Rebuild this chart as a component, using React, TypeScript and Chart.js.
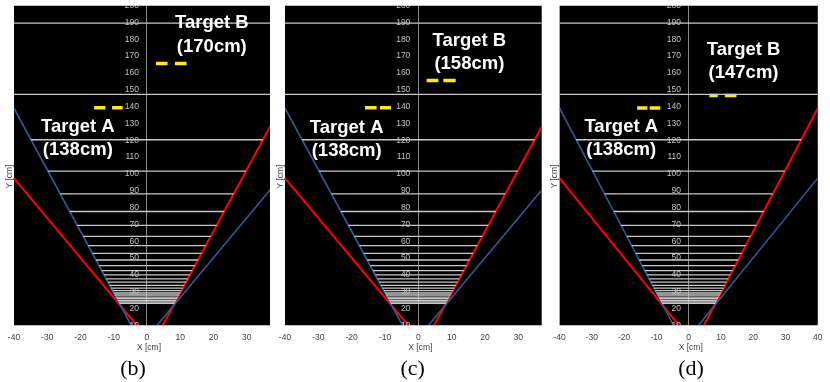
import React, { useEffect, useRef } from "react";
import { Chart, registerables } from "chart.js";

Chart.register(...registerables);

// ---------- data ----------
const X_MIN = -40;
const X_TICKS = [-40, -30, -20, -10, 0, 10, 20, 30, 40];
const Y_MIN = 10;
const Y_MAX = 200;
const Y_STEP = 10;

// horizontal range (resolution) lines, cm
const RANGE_Y = [
  189.5, 147.2, 120.3, 101.7, 88.1, 77.7, 69.5, 62.9, 57.4, 52.8, 48.9, 45.5,
  42.6, 40.0, 37.7, 35.7, 33.8, 32.2, 30.7, 29.3, 28.1, 26.9, 25.9, 24.9, 24.0,
  23.1,
];

// field-of-view boundary lines (x, y endpoints)
const LEFT_BLUE_X = [-40, -4.7];
const LEFT_BLUE_Y = [139, 10];
const RIGHT_BLUE_X = [3, 40];
const RIGHT_BLUE_Y = [10, 97.5];
const LEFT_RED_X = [-40, -3];
const LEFT_RED_Y = [97.5, 10];
const RIGHT_RED_X = [4.7, 40];
const RIGHT_RED_Y = [10, 139];

// per panel
const PANEL_NAMES = ["(b)", "(c)", "(d)"];
const PANEL_X_MAX = [37, 37, 40];
const TARGET_A_Y = [139.3, 139.3, 139.2];
const TARGET_A_DASHES = [
  [-15.9, -12.5, -10.5, -7.3],
  [-16, -12.5, -11.5, -8.2],
  [-16, -12.8, -12.1, -8.8],
];
const TARGET_B_Y = [165.5, 155.4, 146.5];
const TARGET_B_DASHES = [
  [2.7, 6.2, 8.4, 11.9],
  [2.5, 6, 7.5, 11.2],
  [6.4, 9, 11.2, 14.8],
];
const TARGET_A_TEXT = ["Target A", "(138cm)"];
const TARGET_B_TEXT = [
  ["Target B", "(170cm)"],
  ["Target B", "(158cm)"],
  ["Target B", "(147cm)"],
];

// ---------- layout / style ----------
const PANEL_LAYOUT = [
  { left: 0, width: 274, padL: 14, padR: 4, nameX: -4.2, aPos: [-20.8, 128.1], bPos: [19.5, 189.5] },
  { left: 271, width: 275, padL: 14, padR: 4.3, nameX: -1.7, aPos: [-21.5, 127.5], bPos: [15.3, 179.1] },
  { left: 546, width: 284, padL: 10, padR: 7.3, nameX: 0.7, aPos: [-20.9, 127.9], bPos: [17, 173.6] },
];
const H = 382;
const RED = "#ff0000";
const BLUE = "#2f5a96";
const RANGE_COLOR = "#c8c8c8";
const YELLOW = "#ffe81a";
const Y_LABEL_X = -2.4;

function xOnLine(xs: number[], ys: number[], y: number) {
  const t = (y - ys[0]) / (ys[1] - ys[0]);
  return xs[0] + t * (xs[1] - xs[0]);
}

const panelPlugin = {
  id: "panelDecor",
  beforeDraw(chart: any) {
    const { ctx, chartArea: ca } = chart;
    ctx.save();
    ctx.fillStyle = "#000";
    ctx.fillRect(ca.left, ca.top, ca.right - ca.left, ca.bottom - ca.top);
    ctx.restore();
  },
  afterDraw(chart: any) {
    const { ctx, chartArea: ca } = chart;
    const xs = chart.scales.x;
    const ys = chart.scales.y;
    const idx = chart.options.plugins.panelDecor.idx;
    const lay = PANEL_LAYOUT[idx];
    ctx.save();
    // hide tick label overflow outside the plot area
    ctx.fillStyle = "#fff";
    ctx.fillRect(ca.left, 0, ca.right - ca.left, ca.top);
    ctx.fillRect(ca.left, ca.bottom, ca.right - ca.left, 6);

    // target texts
    ctx.fillStyle = "#fff";
    ctx.font = 'bold 18.5px "Liberation Sans", Arial, sans-serif';
    ctx.textAlign = "center";
    ctx.textBaseline = "middle";
    const drawBlock = (lines: string[], pos: number[]) => {
      const px = xs.getPixelForValue(pos[0]);
      const py = ys.getPixelForValue(pos[1]);
      ctx.fillText(lines[0], px, py);
      ctx.fillText(lines[1], px, py + 23.3);
    };
    drawBlock(TARGET_A_TEXT, lay.aPos);
    drawBlock(TARGET_B_TEXT[idx], lay.bPos);

    // axis titles
    ctx.fillStyle = "#404040";
    ctx.font = '8.5px "Liberation Sans", Arial, sans-serif';
    ctx.fillText("X [cm]", xs.getPixelForValue(0) + 2, ca.bottom + 22.2);
    ctx.save();
    ctx.translate(ca.left - 4.5, (ca.top + ca.bottom) / 2 + 11);
    ctx.rotate(-Math.PI / 2);
    ctx.fillText("Y [cm]", 0, 0);
    ctx.restore();

    // panel name
    ctx.fillStyle = "#000";
    ctx.font = '22px "Liberation Serif", "Times New Roman", serif';
    ctx.fillText(PANEL_NAMES[idx], xs.getPixelForValue(lay.nameX), ca.bottom + 44);
    ctx.restore();
  },
};

function Panel({ idx }: { idx: number }) {
  const ref = useRef<HTMLCanvasElement>(null);
  const lay = PANEL_LAYOUT[idx];

  useEffect(() => {
    const canvas = ref.current;
    if (!canvas) return;
    const xMax = PANEL_X_MAX[idx];
    const clampX = (x: number) => Math.max(X_MIN, Math.min(xMax, x));

    const rangeData: any[] = [];
    RANGE_Y.forEach((y) => {
      rangeData.push({ x: clampX(xOnLine(LEFT_BLUE_X, LEFT_BLUE_Y, y)), y });
      rangeData.push({ x: clampX(xOnLine(RIGHT_RED_X, RIGHT_RED_Y, y)), y });
      rangeData.push({ x: 0, y: null });
    });
    const seg = (xa: number[], ya: number[]) => xa.map((x, i) => ({ x, y: ya[i] }));
    const dashes = (d: number[], y: number) => [
      { x: d[0], y },
      { x: d[1], y },
      { x: d[1], y: null },
      { x: d[2], y },
      { x: d[3], y },
    ];
    const lineDs = (data: any[], color: string, width: number) => ({
      data,
      showLine: true,
      borderColor: color,
      backgroundColor: color,
      borderWidth: width,
      pointRadius: 0,
      pointHoverRadius: 0,
      spanGaps: false,
      clip: 0,
      borderCapStyle: "butt",
    });

    const chart = new Chart(canvas, {
      type: "scatter",
      data: {
        datasets: [
          lineDs(rangeData, RANGE_COLOR, 1.3),
          lineDs(seg(LEFT_BLUE_X, LEFT_BLUE_Y), BLUE, 1.6),
          lineDs(seg(RIGHT_BLUE_X, RIGHT_BLUE_Y), BLUE, 1.6),
          lineDs(seg(LEFT_RED_X, LEFT_RED_Y), RED, 2),
          lineDs(seg(RIGHT_RED_X, RIGHT_RED_Y), RED, 2),
          lineDs(dashes(TARGET_A_DASHES[idx], TARGET_A_Y[idx]), YELLOW, 3.5),
          lineDs(dashes(TARGET_B_DASHES[idx], TARGET_B_Y[idx]), YELLOW, 3.5),
        ] as any,
      },
      options: {
        animation: false,
        responsive: false,
        devicePixelRatio: 1,
        events: [],
        layout: { padding: { left: lay.padL, right: lay.padR, top: 5.5, bottom: 0 } },
        plugins: {
          legend: { display: false },
          tooltip: { enabled: false },
          panelDecor: { idx },
        } as any,
        scales: {
          x: {
            type: "linear",
            min: X_MIN,
            max: xMax,
            position: "bottom",
            afterBuildTicks: (s: any) => {
              s.ticks = X_TICKS.filter((v) => v >= X_MIN && v <= xMax).map((v) => ({ value: v }));
            },
            afterFit: (s: any) => {
              s.height = 56.5;
            },
            grid: {
              drawTicks: false,
              lineWidth: 1,
              color: (c: any) => (c.tick && c.tick.value === 0 ? "#8a8a8a" : "rgba(0,0,0,0)"),
            },
            border: { display: false },
            ticks: {
              padding: 7.5,
              color: "#404040",
              font: { family: '"Liberation Sans", Arial, sans-serif', size: 8.5 },
              maxRotation: 0,
              autoSkip: false,
            },
          },
          y: {
            type: "linear",
            min: Y_MIN,
            max: Y_MAX,
            position: { x: Y_LABEL_X } as any,
            grid: { display: false, drawTicks: false },
            border: { display: false },
            ticks: {
              stepSize: Y_STEP,
              padding: 0,
              color: "#c4c4c4",
              font: { family: '"Liberation Sans", Arial, sans-serif', size: 8.5 },
              autoSkip: false,
              z: 1,
            },
          },
        } as any,
      },
      plugins: [panelPlugin as any],
    });
    return () => chart.destroy();
  }, [idx]);

  return (
    <canvas
      ref={ref}
      width={lay.width}
      height={H}
      style={{ position: "absolute", left: lay.left, top: 0, width: lay.width, height: H }}
    />
  );
}

export default function App() {
  return (
    <div
      style={{
        position: "fixed",
        left: 0,
        top: 0,
        width: 830,
        height: H,
        background: "#fff",
        overflow: "hidden",
      }}
    >
      <Panel idx={0} />
      <Panel idx={1} />
      <Panel idx={2} />
    </div>
  );
}
